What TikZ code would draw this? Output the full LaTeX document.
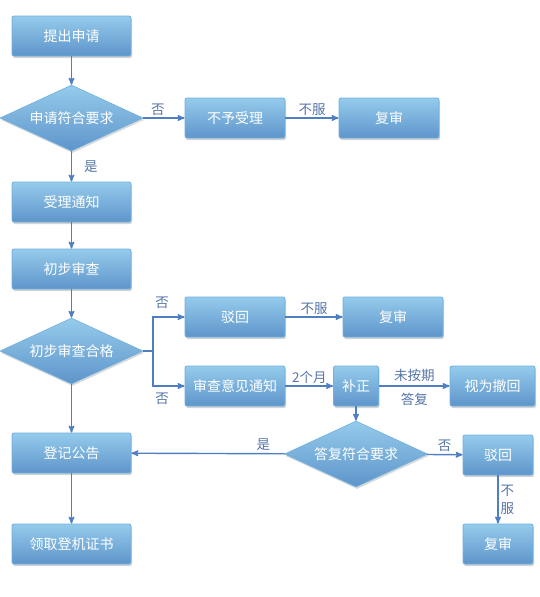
\documentclass[tikz,border=0pt]{standalone}
\usepackage{fontspec}
\setmainfont{Noto Sans CJK SC}
\usepackage{tikz}
\usetikzlibrary{arrows,shapes.geometric,shadows}
\usepackage{xcolor}
\definecolor{boxtop}{HTML}{95CBEB}
\definecolor{boxbot}{HTML}{5E95CB}
\definecolor{boxline}{HTML}{6DB0E2}
\definecolor{flow}{HTML}{4F7FC2}
\definecolor{lbltext}{HTML}{5574A8}

\begin{document}
\begin{tikzpicture}[x=1pt,y=-1pt,
	stepbox/.style={rectangle,rounded corners=2pt,draw=boxline,line width=0.8pt,
		top color=boxtop,bottom color=boxbot,text=white,
		minimum width=119pt,minimum height=40pt,inner sep=0pt,
		font=\fontsize{14}{16}\selectfont,
		drop shadow={opacity=0.35,shadow xshift=1pt,shadow yshift=-2pt}},
	smallbox/.style={stepbox,minimum width=100pt},
	tinybox/.style={stepbox,minimum width=70pt},
	decide/.style={diamond,aspect=2.2,draw=boxline,line width=0.6pt,
		top color=boxtop,bottom color=boxbot,text=white,inner sep=0pt,
		minimum width=143pt,minimum height=66pt,
		font=\fontsize{14}{16}\selectfont,
		drop shadow={opacity=0.3,shadow xshift=1pt,shadow yshift=-2pt}},
	flowline/.style={draw=flow,line width=1.4pt},
	arrow/.style={flowline,-stealth'},
	lbl/.style={text=lbltext,font=\fontsize{13.5}{15}\selectfont,inner sep=2pt}]
\useasboundingbox (0,0) rectangle (540,597);

% left column
\node [stepbox] (apply) at (71.5,36) {提出申请};
\node [decide] (ok1) at (71.5,118) {申请符合要求};
\node [stepbox] (accept) at (71.5,202) {受理通知};
\node [stepbox] (exam) at (71.5,269) {初步审查};
\node [decide] (ok2) at (71.5,351) {初步审查合格};
\node [stepbox] (publish) at (71.5,453) {登记公告};
\node [stepbox] (cert) at (71.5,544) {领取登机证书};

% right side
\node [smallbox] (refuse) at (235,118) {不予受理};
\node [smallbox] (review1) at (389,118) {复审};
\node [smallbox] (reject1) at (235,317) {驳回};
\node [smallbox] (review2) at (393,317) {复审};
\node [smallbox] (notice) at (235,386) {审查意见通知};
\node [stepbox,minimum width=45pt] (amend) at (356,386) {补正};
\node [stepbox,minimum width=85pt] (withdraw) at (492.5,386) {视为撤回};
\node [decide] (ok3) at (356,454) {答复符合要求};
\node [tinybox] (reject2) at (498,455) {驳回};
\node [tinybox] (review3) at (498,544) {复审};

\coordinate (fork) at (153,351);

% connectors
\draw [arrow] (apply) -- (ok1);
\draw [arrow] (ok1) -- node [lbl,right,xshift=10pt] {是} (accept);
\draw [arrow] (ok1) -- node [lbl,above,pos=0.35] {否} (refuse);
\draw [arrow] (refuse) -- node [lbl,above] {不服} (review1);
\draw [arrow] (accept) -- (exam);
\draw [arrow] (exam) -- (ok2);
\draw [flowline] (ok2.east) -- (fork);
\draw [arrow] (fork) |- (reject1);
\draw [arrow] (fork) |- (notice);
\node [lbl] (no2) at (162,303) {否};
\node [lbl] (no3) at (162,399) {否};
\draw [arrow] (reject1) -- node [lbl,above] {不服} (review2);
\draw [arrow] (notice) -- node [lbl,above] {2个月} (amend);
\draw [arrow] (amend) -- node [lbl,above,yshift=2pt] {未按期} node [lbl,below,yshift=-4pt] {答复} (withdraw);
\draw [arrow] (amend) -- (ok3);
\draw [arrow] (ok3) -- node [lbl,above,pos=0.14] {是} (publish);
\draw [arrow] (ok3) -- node [lbl,above] {否} (reject2);
\draw [arrow] (reject2) -- node [lbl,right,align=center,font=\fontsize{13.5}{18}\selectfont] {不\\服} (review3);
\draw [arrow] (ok2) -- (publish);
\draw [arrow] (publish) -- (cert);
\end{tikzpicture}
\end{document}
